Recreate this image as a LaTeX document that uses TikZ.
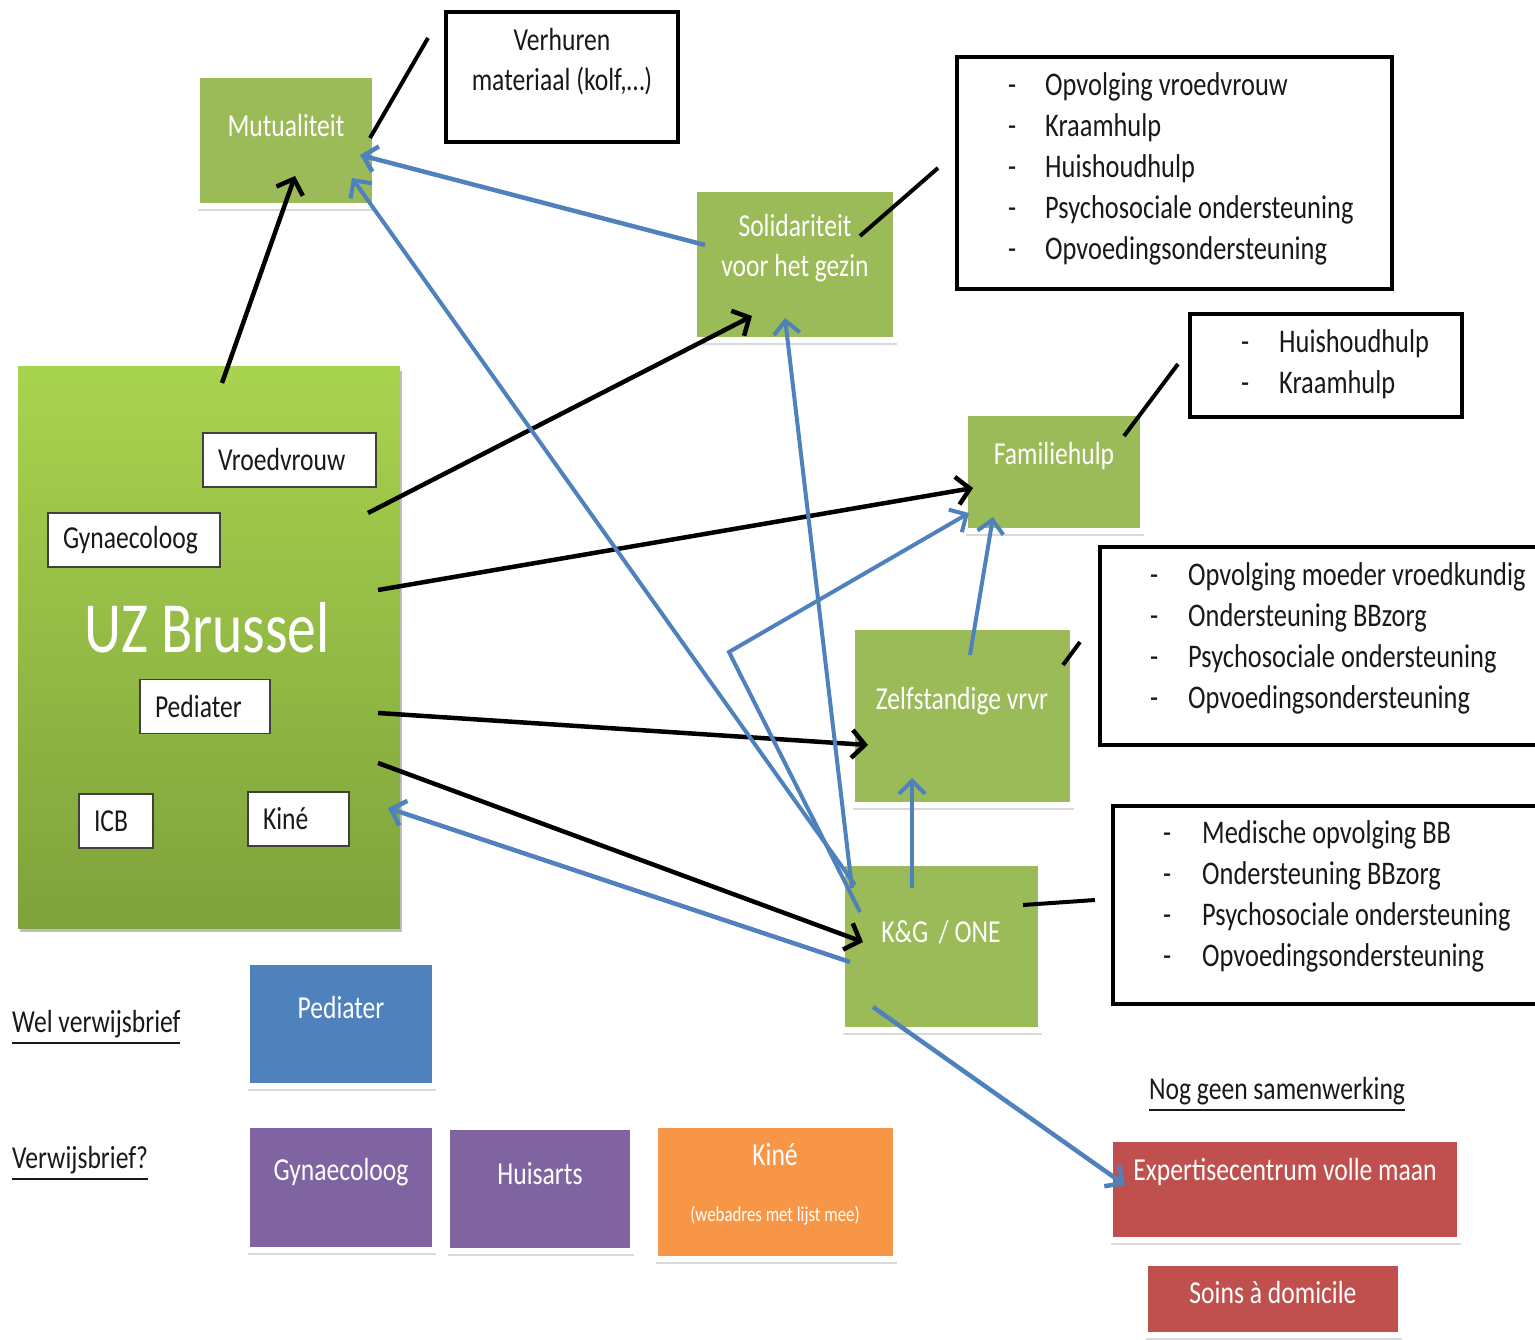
\documentclass[tikz,border=0pt]{standalone}
\usepackage{fontspec}
\setmainfont[FakeStretch=0.8]{Carlito}
\usetikzlibrary{arrows.meta,calc,shadows}
\definecolor{boxgreen}{HTML}{9BBB59}
\definecolor{uztop}{HTML}{A8D34E}
\definecolor{uzbot}{HTML}{7FA23C}
\definecolor{arrowblue}{HTML}{4F81BD}
\definecolor{boxblue}{HTML}{4F81BD}
\definecolor{boxpurple}{HTML}{8064A2}
\definecolor{boxorange}{HTML}{F79646}
\definecolor{boxred}{HTML}{C0504D}
\newcommand{\lidash}[1]{\makebox[#1][l]{-}}
\newcommand{\myul}[1]{\leavevmode\vtop{\hbox{#1}\kern4pt\hrule height 1.8pt}}
\begin{document}
\begin{tikzpicture}[x=1pt,y=-1pt,
  colbox/.style={rectangle, draw=white, line width=6pt, inner sep=0pt,
    drop shadow={shadow xshift=1pt, shadow yshift=-5pt, opacity=0.15, fill=black}},
  greenbox/.style={colbox, fill=boxgreen},
  boxtxt/.style={text=white, font=\fontsize{32}{40}\selectfont, align=center, inner sep=0pt},
  listbox/.style={rectangle, draw=black, line width=4pt, fill=white, inner sep=0pt},
  listtxt/.style={anchor=west, text=black!90, font=\fontsize{33}{41}\selectfont, align=left, inner sep=0pt},
  wbox/.style={rectangle, draw=black!75, line width=1.5pt, fill=white, minimum height=54pt,
    inner xsep=15pt, inner ysep=0pt, align=left, text=black!90, font=\fontsize{32}{38}\selectfont},
  plaintxt/.style={text=black!90, font=\fontsize{32}{38}\selectfont, inner sep=0pt},
  blk/.style={draw=black, line width=4.5pt, -{Straight Barb[length=13pt,width=28pt]}},
  blu/.style={draw=arrowblue, line width=4.5pt, -{Straight Barb[length=13pt,width=26pt]}},
  conn/.style={draw=black, line width=4pt}
]
\useasboundingbox (0,0) rectangle (1535,1340);

% --- UZ Brussel ---
\node[rectangle, minimum width=382pt, minimum height=561pt, inner sep=0pt,
  top color=uztop, bottom color=uzbot,
  drop shadow={shadow xshift=2pt, shadow yshift=-4pt, opacity=0.25, fill=black}] (uz) at (209,647.5) {};
\node[text=white, font=\fontsize{72}{80}\selectfont, inner sep=0pt] (uzT) at (207,628) {UZ Brussel};
\node[wbox, text width=143pt] (vroed) at (289.5,460) {Vroedvrouw};
\node[wbox, text width=142pt] (gyn1) at (134,540) {Gynaecoloog};
\node[wbox, text width=100pt] (ped1) at (205,706.5) {Pediater};
\node[wbox, text width=44pt] (icb) at (116,821) {ICB};
\node[wbox, text width=71pt] (kine1) at (298.5,819) {Kiné};

% --- green boxes ---
\node[greenbox, minimum width=178pt, minimum height=131pt] (mut) at (286,140.5) {};
\node[boxtxt] (mutT) at (286,126) {Mutualiteit};
\node[greenbox, minimum width=202pt, minimum height=151pt] (sol) at (795,264.5) {};
\node[boxtxt] (solT) at (795,248) {Solidariteit\\voor het gezin};
\node[greenbox, minimum width=178pt, minimum height=118pt] (fam) at (1054,472) {};
\node[boxtxt] (famT) at (1054,456) {Familiehulp};
\node[greenbox, minimum width=221pt, minimum height=178pt] (zel) at (962.5,716) {};
\node[boxtxt] (zelT) at (962,701) {Zelfstandige vrvr};
\node[greenbox, minimum width=199pt, minimum height=167pt] (kg) at (941.5,946.5) {};
\node[boxtxt] (kgT) at (941,932) {K\&G\,\,/ ONE};

% --- list boxes ---
\node[listbox, minimum width=232pt, minimum height=130pt] (verh) at (562,77) {};
\node[plaintxt, align=center, font=\fontsize{32}{40}\selectfont] (verhT) at (562,62) {Verhuren\\materiaal (kolf,…)};
\node[listbox, minimum width=435pt, minimum height=232pt] (l1) at (1174.5,173) {};
\node[listtxt] (l1T) at (1008,169) {\lidash{37pt}Opvolging vroedvrouw\\\lidash{37pt}Kraamhulp\\\lidash{37pt}Huishoudhulp\\\lidash{37pt}Psychosociale ondersteuning\\\lidash{37pt}Opvoedingsondersteuning};
\node[listbox, minimum width=272pt, minimum height=103pt] (l2) at (1326,365.5) {};
\node[listtxt] (l2T) at (1241,364.5) {\lidash{38pt}Huishoudhulp\\\lidash{38pt}Kraamhulp};
\node[listbox, minimum width=450pt, minimum height=198pt] (l3) at (1325,646) {};
\node[listtxt] (l3T) at (1150,638) {\lidash{38pt}Opvolging moeder vroedkundig\\\lidash{38pt}Ondersteuning BBzorg\\\lidash{38pt}Psychosociale ondersteuning\\\lidash{38pt}Opvoedingsondersteuning};
\node[listbox, minimum width=437pt, minimum height=198pt] (l4) at (1331.5,905) {};
\node[listtxt] (l4T) at (1163,896.5) {\lidash{39pt}Medische opvolging BB\\\lidash{39pt}Ondersteuning BBzorg\\\lidash{39pt}Psychosociale ondersteuning\\\lidash{39pt}Opvoedingsondersteuning};

% --- bottom boxes ---
\node[plaintxt, anchor=west] (wel) at (12,1027) {\myul{Wel verwijsbrief}};
\node[plaintxt, anchor=west] (verw) at (12,1163) {\myul{Verwijsbrief?}};
\node[colbox, fill=boxblue, minimum width=188pt, minimum height=124pt] (pedB) at (341,1024) {};
\node[boxtxt] (pedBT) at (341,1008) {Pediater};
\node[colbox, fill=boxpurple, minimum width=188pt, minimum height=125pt] (gynB) at (341,1187.5) {};
\node[boxtxt] (gynBT) at (341,1172) {Gynaecoloog};
\node[colbox, fill=boxpurple, minimum width=186pt, minimum height=124pt] (hui) at (540,1189) {};
\node[boxtxt] (huiT) at (540,1174) {Huisarts};
\node[colbox, fill=boxorange, minimum width=241pt, minimum height=134pt] (kineB) at (775.5,1192) {};
\node[boxtxt] (kineBT) at (775,1155) {Kiné};
\node[boxtxt, font=\fontsize{21}{24}\selectfont] (kineBT2) at (775,1216) {(webadres met lijst mee)};
\node[plaintxt] (nog) at (1277,1094) {\myul{Nog geen samenwerking}};
\node[colbox, fill=boxred, minimum width=350pt, minimum height=101pt] (exp) at (1285,1189.5) {};
\node[boxtxt] (expT) at (1285,1172) {Expertisecentrum volle maan};
\node[colbox, fill=boxred, minimum width=256pt, minimum height=72pt] (soins) at (1273,1299) {};
\node[boxtxt] (soinsT) at (1273,1292) {Soins à domicile};

% --- callout connectors ---
\draw[conn] ($(mut.center)+(84,-2.5)$) -- ($(verh.center)+(-134,-39)$);
\draw[conn] ($(sol.center)+(65,-28.5)$) -- ($(l1.center)+(-236.5,-5)$);
\draw[conn] ($(fam.center)+(70,-36)$) -- ($(l2.center)+(-148,-1.5)$);
\draw[conn] ($(zel.center)+(100.5,-51)$) -- ($(l3.center)+(-245,-4)$);
\draw[conn] ($(kg.center)+(81.5,-41.5)$) -- ($(l4.center)+(-236.5,-5)$);

% --- black arrows ---
\draw[blk] ($(uz.center)+(13,-264.5)$) -- ($(mut.center)+(9,35.5)$);
\draw[blk] ($(uz.center)+(159,-134.5)$) -- ($(sol.center)+(-43,51.5)$);
\draw[blk] ($(uz.center)+(169,-57.5)$) -- ($(fam.center)+(-81,16)$);
\draw[blk] ($(uz.center)+(169,65.5)$) -- ($(zel.center)+(-94.5,29)$);
\draw[blk] ($(uz.center)+(169,115.5)$) -- ($(kg.center)+(-78.5,-4.5)$);

% --- blue arrows ---
\coordinate (bend) at (729,652);
\draw[blu] ($(sol.center)+(-90,-19.5)$) -- ($(mut.center)+(74,14.5)$);
\draw[blu, line width=4pt] ($(kg.center)+(-86.5,-61.5)$) -- ($(mut.center)+(66,37.5)$);
\draw[blu, line width=4pt] ($(kg.center)+(-89.5,-58.5)$) -- ($(sol.center)+(-10,53.5)$);
\draw[blu, line width=4pt] ($(kg.center)+(-81.5,-34.5)$) -- (bend) -- ($(fam.center)+(-85,41)$);
\draw[blu] ($(kg.center)+(-91.5,15.5)$) -- ($(uz.center)+(179,160.5)$);
\draw[blu, line width=4pt] ($(zel.center)+(7.5,-61)$) -- ($(fam.center)+(-61,45)$);
\draw[blu, line width=4pt] ($(kg.center)+(-29.5,-58.5)$) -- ($(zel.center)+(-50.5,62)$);
\draw[blu] ($(kg.center)+(-68.5,60.5)$) -- ($(exp.center)+(-160,-4.5)$);
\end{tikzpicture}
\end{document}
